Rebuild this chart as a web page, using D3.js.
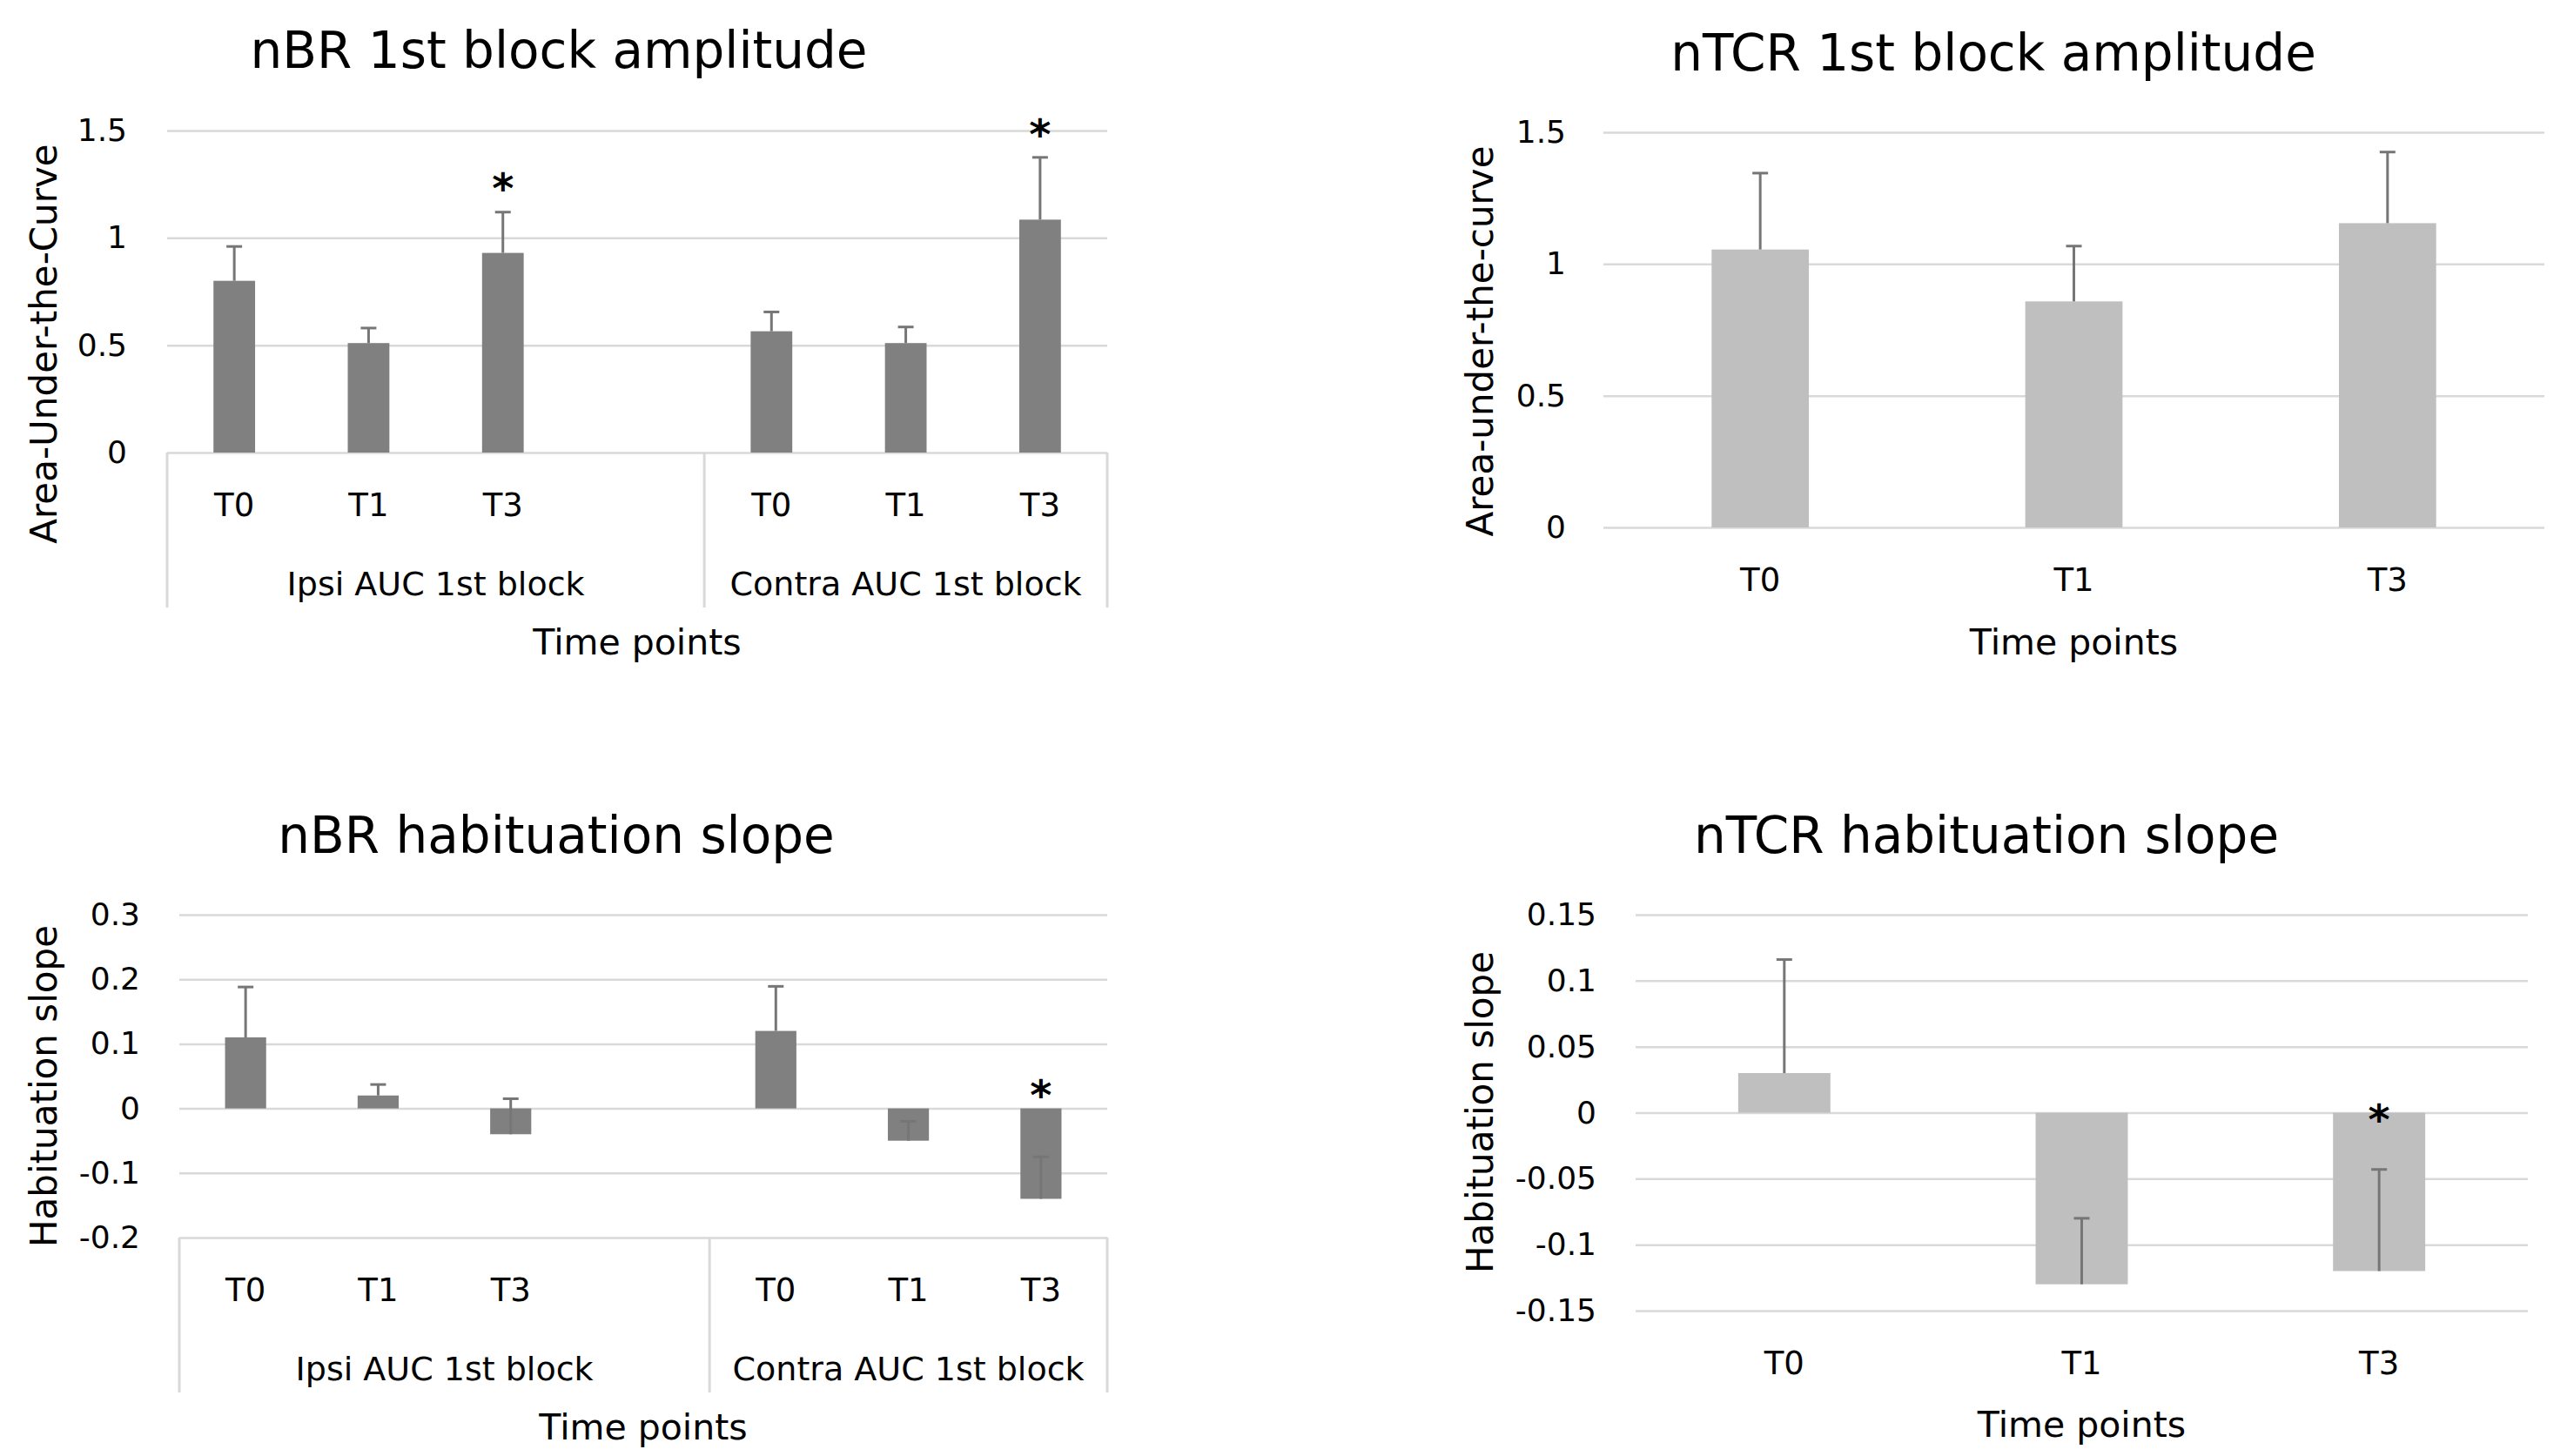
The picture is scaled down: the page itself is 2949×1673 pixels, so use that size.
<!DOCTYPE html>
<html>
<head>
<meta charset="utf-8">
<script src="https://cdn.jsdelivr.net/npm/d3@7"></script>
<style>
body { margin: 0; background: #fff; }
text { font-family: "DejaVu Sans", sans-serif; fill: #000; }
</style>
</head>
<body>
<svg id="chart" width="2949" height="1673"></svg>
<script>
// ---- data ----
var timePoints = ["T0", "T1", "T3"];
var groupNames = ["Ipsi AUC 1st block", "Contra AUC 1st block"];

var nbrAmpIpsi = [0.80, 0.51, 0.93];
var nbrAmpIpsiErr = [0.16, 0.07, 0.19];
var nbrAmpContra = [0.565, 0.51, 1.085];
var nbrAmpContraErr = [0.09, 0.075, 0.29];
var nbrAmpSig = [false, false, true, false, false, false, true];

var ntcrAmp = [1.055, 0.858, 1.155];
var ntcrAmpErr = [0.29, 0.21, 0.27];
var ntcrAmpSig = [false, false, false];

var nbrSlopeIpsi = [0.11, 0.02, -0.04];
var nbrSlopeIpsiErr = [0.078, 0.017, 0.055];
var nbrSlopeContra = [0.12, -0.05, -0.14];
var nbrSlopeContraErr = [0.069, 0.03, 0.065];
var nbrSlopeSig = [false, false, false, false, false, false, true];

var ntcrSlope = [0.03, -0.13, -0.12];
var ntcrSlopeErr = [0.086, 0.05, 0.077];
var ntcrSlopeSig = [false, false, true];

var ampTicks = [0, 0.5, 1, 1.5];
var ampTickLabels = ["0", "0.5", "1", "1.5"];
var nbrSlopeTicks = [-0.2, -0.1, 0, 0.1, 0.2, 0.3];
var nbrSlopeTickLabels = ["-0.2", "-0.1", "0", "0.1", "0.2", "0.3"];
var ntcrSlopeTicks = [-0.15, -0.1, -0.05, 0, 0.05, 0.1, 0.15];
var ntcrSlopeTickLabels = ["-0.15", "-0.1", "-0.05", "0", "0.05", "0.1", "0.15"];

var svg = d3.select("#chart");

var gridColor = "#d9d9d9";
var errColor = "#767676";

function drawPanel(p) {
	var g = svg.append("g");
	var y = d3.scaleLinear()
		.domain([p.ticks[0], p.ticks[p.ticks.length - 1]])
		.range([p.r0, p.r1]);
	var x = d3.scaleBand()
		.domain(d3.range(p.values.length))
		.range([p.x0, p.x1]);
	var bw = x.bandwidth() * 0.31;

	// gridlines + tick labels
	var yAxis = g.append("g")
		.attr("transform", "translate(" + p.x0 + ",0)")
		.call(d3.axisLeft(y)
			.tickValues(p.ticks)
			.tickSize(-(p.x1 - p.x0))
			.tickPadding(p.pad)
			.tickFormat(function (d, i) { return p.tickLabels[i]; }));
	yAxis.select(".domain").remove();
	yAxis.selectAll("line").attr("stroke", gridColor).attr("stroke-width", 2.5);
	yAxis.selectAll("text")
		.attr("font-size", "36px")
		.attr("font-family", "DejaVu Sans")
		.attr("fill", "#000");

	// bars
	var pts = p.values.map(function (v, i) { return {v: v, e: p.errs[i], s: p.sig[i], i: i}; })
		.filter(function (d) { return d.v !== null; });

	g.selectAll("rect.bar")
		.data(pts)
		.enter()
		.append("rect")
		.attr("class", "bar")
		.attr("x", function (d) { return x(d.i) + (x.bandwidth() - bw) / 2; })
		.attr("y", function (d) { return Math.min(y(d.v), y(0)); })
		.attr("width", bw)
		.attr("height", function (d) { return Math.abs(y(d.v) - y(0)); })
		.attr("fill", p.color);

	// error bars (plus direction)
	g.selectAll("line.err")
		.data(pts)
		.enter()
		.append("line")
		.attr("class", "err")
		.attr("x1", function (d) { return x(d.i) + x.bandwidth() / 2; })
		.attr("x2", function (d) { return x(d.i) + x.bandwidth() / 2; })
		.attr("y1", function (d) { return y(d.v); })
		.attr("y2", function (d) { return y(d.v + d.e); })
		.attr("stroke", errColor)
		.attr("stroke-width", 3);
	g.selectAll("line.cap")
		.data(pts)
		.enter()
		.append("line")
		.attr("class", "cap")
		.attr("x1", function (d) { return x(d.i) + x.bandwidth() / 2 - 9; })
		.attr("x2", function (d) { return x(d.i) + x.bandwidth() / 2 + 9; })
		.attr("y1", function (d) { return y(d.v + d.e); })
		.attr("y2", function (d) { return y(d.v + d.e); })
		.attr("stroke", errColor)
		.attr("stroke-width", 3);

	// significance stars
	g.selectAll("text.star")
		.data(pts.filter(function (d) { return d.s; }))
		.enter()
		.append("text")
		.attr("class", "star")
		.attr("x", function (d) { return x(d.i) + x.bandwidth() / 2; })
		.attr("y", function (d) { return Math.min(y(0), y(d.v + d.e)) - p.starOff; })
		.attr("dy", "0.62em")
		.attr("text-anchor", "middle")
		.attr("font-size", "48px")
		.attr("font-weight", "bold")
		.text("*");

	// category labels
	var xAxis = g.append("g")
		.attr("transform", "translate(0," + p.r0 + ")")
		.call(d3.axisBottom(x)
			.tickSize(0)
			.tickFormat(function (d, i) { return p.labels[i]; }));
	xAxis.select(".domain").remove();
	xAxis.selectAll("text")
		.attr("y", 60)
		.attr("dy", "0.36em")
		.attr("font-size", "37px")
		.attr("font-family", "DejaVu Sans")
		.attr("fill", "#000");

	// multi-level category box
	if (p.groups) {
		var step = x.step();
		var edges = [p.x0, p.x0 + step * 4, p.x1];
		g.selectAll("line.box")
			.data(edges)
			.enter()
			.append("line")
			.attr("x1", function (d) { return d; })
			.attr("x2", function (d) { return d; })
			.attr("y1", p.r0)
			.attr("y2", p.r0 + 178)
			.attr("stroke", gridColor)
			.attr("stroke-width", 3);
		g.selectAll("text.group")
			.data(p.groups)
			.enter()
			.append("text")
			.attr("class", "group")
			.attr("x", function (d, i) { return (edges[i] + edges[i + 1]) / 2; })
			.attr("y", p.r0 + 150)
			.attr("dy", "0.36em")
			.attr("text-anchor", "middle")
			.attr("font-size", "38px")
			.text(function (d) { return d; });
	}

	// x axis title
	g.append("text")
		.attr("x", (p.x0 + p.x1) / 2)
		.attr("y", p.r0 + p.xtOff)
		.attr("dy", "0.36em")
		.attr("text-anchor", "middle")
		.attr("font-size", "41px")
		.text("Time points");

	// y axis title
	g.append("text")
		.attr("transform", "translate(" + p.ytX + "," + p.ytY + ") rotate(-90)")
		.attr("dy", "0.36em")
		.attr("text-anchor", "middle")
		.attr("font-size", "42px")
		.text(p.yTitle);

	// chart title
	g.append("text")
		.attr("x", p.titleX)
		.attr("y", p.titleY)
		.attr("dy", "0.36em")
		.attr("text-anchor", "middle")
		.attr("font-size", "58px")
		.text(p.title);
}

var grpLabels = timePoints.concat([""], timePoints);

drawPanel({
	title: "nBR 1st block amplitude", titleX: 642, titleY: 57,
	yTitle: "Area-Under-the-Curve", ytX: 50, ytY: 395,
	x0: 192, x1: 1272, r0: 520, r1: 150, pad: 46, starOff: 40, xtOff: 217,
	ticks: ampTicks, tickLabels: ampTickLabels,
	values: nbrAmpIpsi.concat([null], nbrAmpContra),
	errs: nbrAmpIpsiErr.concat([null], nbrAmpContraErr),
	sig: nbrAmpSig, labels: grpLabels, groups: groupNames, color: "#808080"
});

drawPanel({
	title: "nTCR 1st block amplitude", titleX: 2290, titleY: 60,
	yTitle: "Area-under-the-curve", ytX: 1700, ytY: 392,
	x0: 1842, x1: 2923, r0: 606, r1: 152, pad: 43, starOff: 40, xtOff: 131,
	ticks: ampTicks, tickLabels: ampTickLabels,
	values: ntcrAmp, errs: ntcrAmpErr,
	sig: ntcrAmpSig, labels: timePoints, groups: null, color: "#bfbfbf"
});

drawPanel({
	title: "nBR habituation slope", titleX: 639, titleY: 959,
	yTitle: "Habituation slope", ytX: 50, ytY: 1248,
	x0: 206, x1: 1272, r0: 1422, r1: 1051, pad: 45, starOff: 28, xtOff: 217,
	ticks: nbrSlopeTicks, tickLabels: nbrSlopeTickLabels,
	values: nbrSlopeIpsi.concat([null], nbrSlopeContra),
	errs: nbrSlopeIpsiErr.concat([null], nbrSlopeContraErr),
	sig: nbrSlopeSig, labels: grpLabels, groups: groupNames, color: "#808080"
});

drawPanel({
	title: "nTCR habituation slope", titleX: 2282, titleY: 959,
	yTitle: "Habituation slope", ytX: 1700, ytY: 1278,
	x0: 1879, x1: 2904, r0: 1506, r1: 1051, pad: 45, starOff: 5, xtOff: 130,
	ticks: ntcrSlopeTicks, tickLabels: ntcrSlopeTickLabels,
	values: ntcrSlope, errs: ntcrSlopeErr,
	sig: ntcrSlopeSig, labels: timePoints, groups: null, color: "#bfbfbf"
});
</script>
</body>
</html>
